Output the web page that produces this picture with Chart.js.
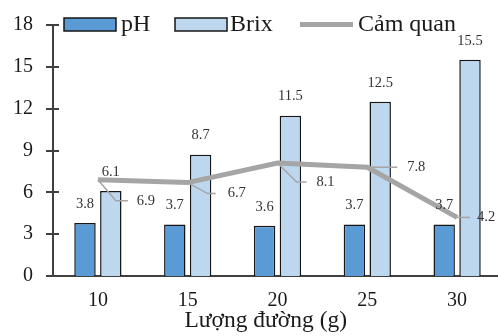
<!DOCTYPE html>
<html><head><meta charset="utf-8">
<script src="https://cdn.jsdelivr.net/npm/chart.js@4"></script>
<style>html,body{margin:0;padding:0;overflow:hidden;background:#fff}#wrap{width:503px;height:336px;position:relative}</style>
</head><body><div id="wrap"><canvas id="c" width="503" height="336"></canvas></div>
<script>
const categories = ['10', '15', '20', '25', '30'];
const phValues = [3.8, 3.7, 3.6, 3.7, 3.7];
const brixValues = [6.1, 8.7, 11.5, 12.5, 15.5];
const camQuanValues = [6.9, 6.7, 8.1, 7.8, 4.2];
const yTicks = [0, 3, 6, 9, 12, 15, 18];
const seriesNames = ['pH', 'Brix', 'Cảm quan'];
const xTitle = 'Lượng đường (g)';

// leader-line layout for the Cảm quan labels (px): elbow dx, elbow dy, end dx, text dx
const leaderLayout = [[18, 21, 30, 48], [20, 11, 28, 49], [19, 19, 29, 48], [0, 0, 30, 49], [0, 0, 13, 29]];
// legend layout (px): symbol x, text x
const legendLayout = [[64, 121], [175, 230], [300, 358]];

const FONT = '"Liberation Serif", "Times New Roman", serif';
const TEXT = '#1a1a1a';
const AXIS = '#404040';

const decor = {
  id: 'decor',
  afterDatasetsDraw(chart) {
    const ctx = chart.ctx;
    ctx.save();
    ctx.font = '14.5px ' + FONT;
    ctx.fillStyle = '#333';
    ctx.textAlign = 'center';
    ctx.textBaseline = 'middle';
    [0, 1].forEach(di => {
      chart.getDatasetMeta(di).data.forEach((bar, i) => {
        ctx.fillText(String(chart.data.datasets[di].data[i]), bar.x, bar.y - 19);
      });
    });
    const lm = chart.getDatasetMeta(2);
    lm.data.forEach((pt, i) => {
      const L = leaderLayout[i];
      ctx.strokeStyle = '#a5a5a5';
      ctx.lineWidth = 1.5;
      ctx.beginPath();
      ctx.moveTo(pt.x, pt.y);
      ctx.lineTo(pt.x + L[0], pt.y + L[1]);
      ctx.lineTo(pt.x + L[2], pt.y + L[1]);
      ctx.stroke();
      ctx.fillText(String(chart.data.datasets[2].data[i]), pt.x + L[3], pt.y + L[1]);
    });
    ctx.restore();
  },
  afterDraw(chart) {
    const ctx = chart.ctx, ca = chart.chartArea, ys = chart.scales.y;
    ctx.save();
    ctx.strokeStyle = AXIS;
    ctx.lineWidth = 2;
    ys.ticks.forEach(t => {
      const py = Math.round(ys.getPixelForValue(t.value));
      ctx.beginPath();
      ctx.moveTo(ca.left - 7, py);
      ctx.lineTo(ca.left + 6, py);
      ctx.stroke();
    });
    // legend
    const ds = chart.data.datasets;
    ctx.font = '24px ' + FONT;
    ctx.fillStyle = TEXT;
    ctx.textAlign = 'left';
    ctx.textBaseline = 'middle';
    const ly = 24.5;
    ds.forEach((d, i) => {
      const [sx, tx] = legendLayout[i];
      if (d.type === 'line') {
        ctx.strokeStyle = d.borderColor;
        ctx.lineWidth = 5;
        ctx.beginPath();
        ctx.moveTo(sx, ly);
        ctx.lineTo(sx + 53, ly);
        ctx.stroke();
      } else {
        ctx.fillStyle = d.backgroundColor;
        ctx.fillRect(sx, ly - 6.5, 52, 13);
        ctx.strokeStyle = d.borderColor;
        ctx.lineWidth = 1.5;
        ctx.strokeRect(sx, ly - 6.5, 52, 13);
      }
      ctx.fillStyle = TEXT;
      ctx.fillText(d.label, tx, ly);
    });
    ctx.restore();
  }
};

new Chart(document.getElementById('c'), {
  data: {
    labels: categories,
    datasets: [
      { type: 'bar', label: seriesNames[0], data: phValues, backgroundColor: '#5b9bd5', borderColor: '#161616', borderWidth: 1.5, order: 1, categoryPercentage: 0.575, barPercentage: 0.83 },
      { type: 'bar', label: seriesNames[1], data: brixValues, backgroundColor: '#bdd7ee', borderColor: '#161616', borderWidth: 1.5, order: 1, categoryPercentage: 0.575, barPercentage: 0.83 },
      { type: 'line', label: seriesNames[2], data: camQuanValues, borderColor: '#a5a5a5', borderWidth: 5, pointRadius: 0, fill: false, tension: 0, order: 0 }
    ]
  },
  options: {
    responsive: false,
    animation: false,
    layout: { padding: { top: 25, right: 1, left: 0, bottom: 0 } },
    plugins: { legend: { display: false }, tooltip: { enabled: false } },
    scales: {
      x: {
        grid: { display: false, drawTicks: false },
        border: { display: true, color: AXIS, width: 2 },
        ticks: { font: { family: FONT, size: 20 }, color: TEXT, padding: 13 },
        title: { display: true, text: xTitle + '\u00a0\u00a0\u00a0\u00a0', font: { family: FONT, size: 23.5, lineHeight: 1 }, color: TEXT, padding: { top: 0, bottom: 3 } },
        afterFit: s => { s.height = 60; s.paddingLeft = 0; s.paddingRight = 0; }
      },
      y: {
        min: 0, max: 18,
        afterBuildTicks: s => { s.ticks = yTicks.map(v => ({ value: v })); },
        grid: { display: false, drawTicks: false },
        border: { display: true, color: AXIS, width: 2 },
        ticks: { font: { family: FONT, size: 20 }, color: TEXT, padding: 20 },
        afterFit: s => { s.width = 53; s.paddingTop = 0; s.paddingBottom = 0; }
      }
    }
  },
  plugins: [decor]
});
</script>
</body></html>
